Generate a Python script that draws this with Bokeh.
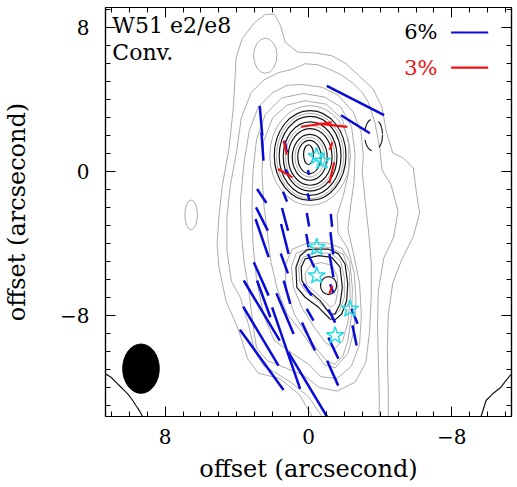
import numpy as np
from bokeh.plotting import figure
from bokeh.models import Range1d, FixedTicker, LinearAxis, CustomJSTickFormatter
from bokeh.core.properties import value
from bokeh.embed import file_html
from bokeh.resources import INLINE

FONT = "DejaVu Serif"

# ---------------- axes ----------------
major_ticks = [-8, 0, 8]
x_minor = list(range(-11, 12))
y_minor = list(range(-13, 10))
x_label = "offset (arcsecond)"
y_label = "offset (arcsecond)"

# ---------------- polarization vectors ----------------
# blue set: offset x (arcsec, east +), offset y, P (%), PA (deg)
blue_x = [-2.62, -2.62, 2.65, 2.57, 1.27, 1.20, 0.00, 0.00,
          2.61, 1.31, 2.60, 1.31, 0.03, -1.28, 2.59, 1.32, 0.06, -1.30,
          1.35, -1.28, 2.64, -0.15,
          2.61, 2.66, 2.61, 2.50, 1.25, 1.31, 0.05, 0.00, 0.05, 1.20,
          -1.30, -1.39, -1.35, -2.57, -2.57, -0.09, -1.30]
blue_y = [3.96, 2.64, 2.83, 1.40, 1.40, -0.04, -0.04, -1.39,
          -1.35, -1.39, -2.63, -2.65, -2.67, -2.70, -3.69, -3.74, -3.83, -3.98,
          -5.10, -5.22, -5.96, -4.95,
          -7.72, -9.14, -10.46, -7.07, -9.81, -7.89, -11.82, -9.16, -6.56, -6.70,
          -8.02, -9.81, -11.20, -8.04, -9.10, -7.95, -6.50]
blue_p = [10.4, 5.5, 4.8, 4.6, 1.9, 1.1, 0.8, 1.1,
          2.7, 1.7, 4.2, 3.8, 2.2, 2.1, 6.5, 5.0, 2.2, 3.6,
          3.4, 3.8, 5.9, 2.4,
          11.3, 11.1, 12.0, 6.3, 13.9, 7.1, 12.1, 5.0, 2.3, 3.9,
          2.4, 3.8, 4.4, 2.6, 3.3, 2.2, 1.5]
blue_pa = [63, 58, 5, 4, 11, 29, 16, 14,
           34, 22, 27, 15, 10, 6, 19, 14, 10, 7,
           20, 10, 24, 26,
           31, 31, 36, 20, 19, 23, 31, 25, 35, 16,
           27, 25, 24, 22, 12, 30, 20]
blue_scale = 0.345   # arcsec per percent (6% bar)

# red set
red_x = [-0.44, -1.28, 1.30, 1.30, -1.26, -1.30, -1.25]
red_y = [2.62, 2.59, 1.33, -0.08, 1.43, -0.06, -6.56]
red_p = [2.5, 2.6, 1.15, 1.36, 0.65, 1.73, 0.7]
red_pa = [98, 84, 13, 60, 160, 167, 160]
red_scale = 0.69     # arcsec per percent (3% bar)

# ---------------- cyan stars ----------------
star_x = [-0.45, -0.75, -0.46, -0.46, -2.31, -1.48]
star_y = [0.85, 0.60, -4.20, -5.78, -7.63, -9.11]

# ---------------- beam ----------------
beam_x, beam_y, beam_w, beam_h = [9.35], [-10.95], [2.04], [2.74]

# ---------------- gray contours (outline vertices, arcsec) ----------------
gray_outer1 = [(-0.2, -13.61), (0.5, -12.4), (1.6, -11.5), (2.8, -11.2), (3.4, -10.4), (3.9, -8.8),
               (4.6, -7.2), (5.0, -5.3), (5.1, -4.0), (5.0, -2.5), (4.8, -0.7), (4.45, 1.2), (4.2, 3.5),
               (4.1, 5.2), (4.05, 6.3), (3.7, 7.4), (3.0, 8.3), (2.4, 8.75), (1.9, 8.75), (1.55, 8.1),
               (1.3, 7.2), (0.6, 6.65), (-0.4, 6.6), (-1.3, 6.45), (-2.1, 6.0), (-2.8, 5.35), (-3.6, 4.6),
               (-4.1, 3.6), (-4.35, 2.2), (-4.7, 1.05), (-5.3, 0.75), (-5.85, 0.2), (-6.0, -1.0),
               (-6.2, -2.3), (-5.85, -3.6), (-5.2, -4.9), (-4.7, -6.2), (-4.45, -8.0), (-4.4, -10.0),
               (-4.45, -12.0), (-4.45, -13.61)]
gray_outer2 = [(-0.75, -13.61), (0.0, -12.5), (1.0, -11.7), (1.8, -11.2), (2.5, -10.8), (3.0, -10.0),
               (3.35, -8.5), (3.8, -7.0), (4.3, -6.1), (4.55, -4.4), (4.55, -2.5), (4.35, -0.7), (4.0, 1.2),
               (3.75, 3.0), (3.2, 4.4), (2.5, 5.1), (1.7, 5.5), (0.9, 5.7), (0.2, 6.0), (-0.5, 5.95),
               (-1.1, 5.72), (-1.8, 5.4), (-2.41, 4.98), (-3.0, 4.4), (-3.33, 3.87), (-3.7, 2.76),
               (-3.98, 1.28), (-4.1, 0.1), (-4.6, -0.7), (-5.0, -2.2), (-4.75, -3.65), (-4.2, -4.8),
               (-3.9, -6.6), (-3.85, -8.5), (-3.9, -10.5), (-3.95, -12.5), (-3.95, -13.61)]
gray_c3 = [(0.4, 4.85), (-0.74, 4.7), (-1.67, 4.24), (-2.5, 3.31), (-2.93, 2.2), (-3.06, 0.91), (-3.0, 0.0),
           (-3.15, -1.5), (-3.35, -3.3), (-3.5, -5.0), (-3.5, -7.0), (-3.4, -9.0), (-3.2, -10.6), (-2.6, -11.7),
           (-1.6, -12.2), (-0.6, -12.0), (0.3, -11.3), (1.3, -10.9), (2.3, -10.5), (2.9, -9.8), (3.1, -8.5),
           (3.35, -6.5), (3.6, -5.0), (3.75, -3.4), (3.8, -1.6), (3.6, 0.5), (3.3, 2.3), (2.8, 3.6), (2.0, 4.4),
           (1.2, 4.8), (0.4, 4.85)]
gray_c4 = [(0.3, 4.35), (-0.9, 4.15), (-1.8, 3.6), (-2.4, 2.5), (-2.6, 1.0), (-2.55, -0.5), (-2.35, -1.9),
           (-2.2, -3.2), (-2.5, -4.5), (-2.85, -6.2), (-2.95, -8.0), (-2.85, -9.6), (-2.4, -10.8), (-1.6, -11.5),
           (-0.7, -11.4), (0.0, -10.7), (0.9, -10.1), (1.9, -9.4), (2.5, -8.0), (2.9, -6.0), (3.1, -4.0),
           (3.15, -2.0), (3.1, 0.0), (2.9, 1.8), (2.4, 3.2), (1.5, 4.1), (0.3, 4.35)]
gray_c5 = [(0.2, 3.95), (-1.0, 3.75), (-1.9, 2.9), (-2.25, 1.5), (-2.25, 0.0), (-1.95, -1.3), (-1.6, -2.4),
           (-1.65, -3.4), (-2.2, -4.3), (-2.55, -5.6), (-2.65, -7.2), (-2.55, -8.8), (-2.2, -10.1), (-1.5, -10.9),
           (-0.9, -10.75), (-0.3, -9.9), (0.4, -8.9), (1.2, -7.9), (1.75, -6.5), (2.1, -5.0), (2.3, -3.4),
           (2.5, -1.8), (2.6, 0.0), (2.5, 1.7), (2.0, 3.0), (1.2, 3.7), (0.2, 3.95)]
gray_e8_1 = [(0.9, -4.3), (0.0, -3.95), (-1.0, -3.95), (-1.85, -4.25), (-2.3, -5.0), (-2.45, -6.5), (-2.4, -8.0),
             (-2.2, -9.4), (-1.9, -10.3), (-1.45, -10.7), (-1.0, -10.5), (-0.5, -9.9), (0.15, -9.0), (0.8, -7.9),
             (1.25, -6.5), (1.3, -5.2), (0.9, -4.3)]
gray_e8_2 = [(0.7, -4.55), (-0.2, -4.2), (-1.2, -4.2), (-1.95, -4.6), (-2.28, -5.6), (-2.32, -7.0), (-2.2, -8.4),
             (-1.9, -9.4), (-1.45, -9.85), (-0.95, -9.5), (-0.35, -8.7), (0.35, -7.6), (0.85, -6.4), (0.95, -5.3),
             (0.7, -4.55)]
gray_e8_3 = [(0.3, -4.75), (-0.5, -4.5), (-1.3, -4.55), (-1.8, -5.0), (-2.0, -5.9), (-2.0, -7.0), (-1.75, -7.7),
             (-1.4, -8.0), (-1.0, -7.7), (-0.45, -7.1), (0.2, -6.6), (0.5, -6.1), (0.55, -5.3), (0.3, -4.75)]
gray_e8_4 = [(-0.1, -5.2), (-0.7, -5.05), (-1.3, -5.2), (-1.6, -5.8), (-1.65, -6.6), (-1.5, -7.3), (-1.25, -7.55),
             (-0.9, -7.2), (-0.4, -6.7), (0.1, -6.3), (0.2, -5.7), (-0.1, -5.2)]
gray_lines = [gray_outer1, gray_outer2, gray_c3, gray_c4, gray_c5,
              gray_e8_1, gray_e8_2, gray_e8_3, gray_e8_4]

# small isolated gray islands and e2 gray rings: centre x, centre y, width, height
gray_ell_x = [2.41, 6.55, -0.09, -0.09, -0.09, -0.07]
gray_ell_y = [6.45, -2.40, 0.90, 0.87, 0.83, 0.81]
gray_ell_w = [1.30, 0.70, 4.50, 3.75, 2.75, 1.65]
gray_ell_h = [1.95, 1.65, 5.55, 4.75, 3.50, 2.20]

# ---------------- black contours ----------------
black_ell_x = [-0.09, -0.09, -0.09, -0.09, -0.07, -0.05, 0.00, -1.12]
black_ell_y = [0.90, 0.88, 0.85, 0.82, 0.80, 0.82, 0.95, -6.33]
black_ell_w = [4.00, 3.45, 3.00, 2.45, 1.95, 1.30, 0.55, 0.90]
black_ell_h = [5.00, 4.40, 3.85, 3.15, 2.55, 1.85, 1.10, 1.00]
black_e8_1 = [(0.09, -4.35), (-0.37, -4.30), (-1.11, -4.30), (-1.67, -4.57), (-2.04, -5.13), (-2.19, -6.24),
              (-2.13, -7.17), (-1.85, -7.91), (-1.48, -8.24), (-1.2, -8.19), (-0.56, -7.54), (0.19, -6.98),
              (0.65, -6.43), (0.70, -5.31), (0.46, -4.67), (0.09, -4.35)]
black_e8_2 = [(0.41, -5.31), (0.19, -4.85), (-0.56, -4.67), (-1.30, -4.76), (-1.76, -5.31), (-1.89, -6.43),
              (-1.76, -7.35), (-1.48, -7.91), (-1.2, -7.91), (-0.65, -7.17), (0.0, -6.61), (0.37, -6.06),
              (0.41, -5.31)]
corner_left = [(11.33, -11.24), (11.02, -11.43), (10.65, -11.8), (10.37, -12.07), (10.09, -12.35),
               (9.81, -12.72), (9.63, -13.0), (9.44, -13.28), (9.26, -13.61)]
corner_right = [(-9.63, -13.61), (-9.91, -12.72), (-10.28, -12.35), (-10.74, -11.98), (-11.02, -11.61),
                (-11.33, -11.24)]
black_lines = [black_e8_1, black_e8_2, corner_left, corner_right]
neg_x, neg_y, neg_w, neg_h = [-3.63], [2.05], [1.0], [1.8]

# ---------------- legend / labels ----------------
label_lines = ["W51 e2/e8", "Conv."]
legend_pct = [6, 3]
legend_text = ["6%", "3%"]


def vec_ends(x, y, p, pa, scale):
    x, y, p, pa = map(np.asarray, (x, y, p, pa))
    L = p * scale
    t = np.deg2rad(pa)
    dx, dy = L * np.sin(t) / 2, L * np.cos(t) / 2
    return x - dx, y - dy, x + dx, y + dy


def split(lines):
    return [[v[0] for v in l] for l in lines], [[v[1] for v in l] for l in lines]


p = figure(width=517, height=487, x_range=Range1d(11.33, -11.33), y_range=Range1d(-13.61, 9.13),
           output_backend="svg", toolbar_location=None,
           min_border_left=103, min_border_right=6, min_border_top=7, min_border_bottom=71)
p.grid.visible = False
p.outline_line_color = "black"
p.outline_line_width = 1.2
p.background_fill_color = "white"

GRAY = "#ababab"
BLACK = "#151515"
gx, gy = split(gray_lines)
p.multi_line(gx, gy, line_color=GRAY, line_width=1.0)
p.ellipse(gray_ell_x, gray_ell_y, width=gray_ell_w, height=gray_ell_h, fill_color=None,
          line_color=GRAY, line_width=1.0)

bx, by = split(black_lines)
p.multi_line(bx, by, line_color=BLACK, line_width=1.2)
p.ellipse(black_ell_x, black_ell_y, width=black_ell_w, height=black_ell_h, fill_color=None,
          line_color=BLACK, line_width=1.2)
p.ellipse(neg_x, neg_y, width=neg_w, height=neg_h, fill_color=None, line_color=BLACK,
          line_width=1.1, line_dash="13 9")

x0, y0, x1, y1 = vec_ends(blue_x, blue_y, blue_p, blue_pa, blue_scale)
p.segment(x0, y0, x1, y1, line_color="#0a0ad8", line_width=2.5)
x0, y0, x1, y1 = vec_ends(red_x, red_y, red_p, red_pa, red_scale)
p.segment(x0, y0, x1, y1, line_color="#ee1111", line_width=2.2)

p.scatter(star_x, star_y, marker="star", size=18, fill_color=None, line_color="#22dde6", line_width=1.5)

p.ellipse(beam_x, beam_y, width=beam_w, height=beam_h, fill_color="black", line_color="black")

# legend bars
leg_x0 = -7.96
leg_y = [7.74, 5.79]
p.segment([leg_x0], [leg_y[0]], [leg_x0 - legend_pct[0] * blue_scale], [leg_y[0]],
          line_color="#0a0ad8", line_width=2.2)
p.segment([leg_x0], [leg_y[1]], [leg_x0 - legend_pct[1] * red_scale], [leg_y[1]],
          line_color="#ee1111", line_width=2.2)
p.text([-7.2], [7.78], text=[legend_text[0]], text_font=value(FONT), text_font_size="21px",
       text_align="right", text_baseline="middle", text_color="black")
p.text([-7.2], [5.78], text=[legend_text[1]], text_font=value(FONT), text_font_size="21px",
       text_align="right", text_baseline="middle", text_color="#ee1111")
p.text([10.95, 10.95], [8.15, 6.62], text=label_lines, text_font=value(FONT), text_font_size="22px",
       text_align="left", text_baseline="middle", text_color="black")

fmt = CustomJSTickFormatter(code="return tick < 0 ? '\u2212' + Math.abs(tick) : String(tick);")
blank = CustomJSTickFormatter(code="return '';")

xt = FixedTicker(ticks=major_ticks, minor_ticks=x_minor)
yt = FixedTicker(ticks=major_ticks, minor_ticks=y_minor)


def style(ax, ticker, labels=True):
    ax.ticker = ticker
    ax.major_tick_in = 10
    ax.major_tick_out = 0
    ax.minor_tick_in = 5
    ax.minor_tick_out = 0
    ax.major_tick_line_color = "black"
    ax.minor_tick_line_color = "black"
    ax.axis_line_color = "black"
    ax.axis_line_width = 1.2
    if labels:
        ax.formatter = fmt
        ax.major_label_text_font = FONT
        ax.major_label_text_font_size = "20px"
        ax.major_label_text_color = "black"
        ax.axis_label_text_font = FONT
        ax.axis_label_text_font_size = "24px"
        ax.axis_label_text_font_style = "normal"
        ax.axis_label_text_color = "black"
    else:
        ax.formatter = blank
        ax.major_label_text_font_size = "0px"
        ax.major_label_standoff = 0


style(p.xaxis[0], xt)
style(p.yaxis[0], yt)
p.xaxis[0].axis_label = x_label
p.yaxis[0].axis_label = y_label
p.xaxis[0].major_label_standoff = 12
p.xaxis[0].axis_label_standoff = 8
p.yaxis[0].major_label_standoff = 16
p.yaxis[0].axis_label_standoff = 26

top = LinearAxis()
style(top, FixedTicker(ticks=major_ticks, minor_ticks=x_minor), labels=False)
right = LinearAxis()
style(right, FixedTicker(ticks=major_ticks, minor_ticks=y_minor), labels=False)
p.add_layout(top, "above")
p.add_layout(right, "right")

open("out.html", "w").write(file_html(p, INLINE))
